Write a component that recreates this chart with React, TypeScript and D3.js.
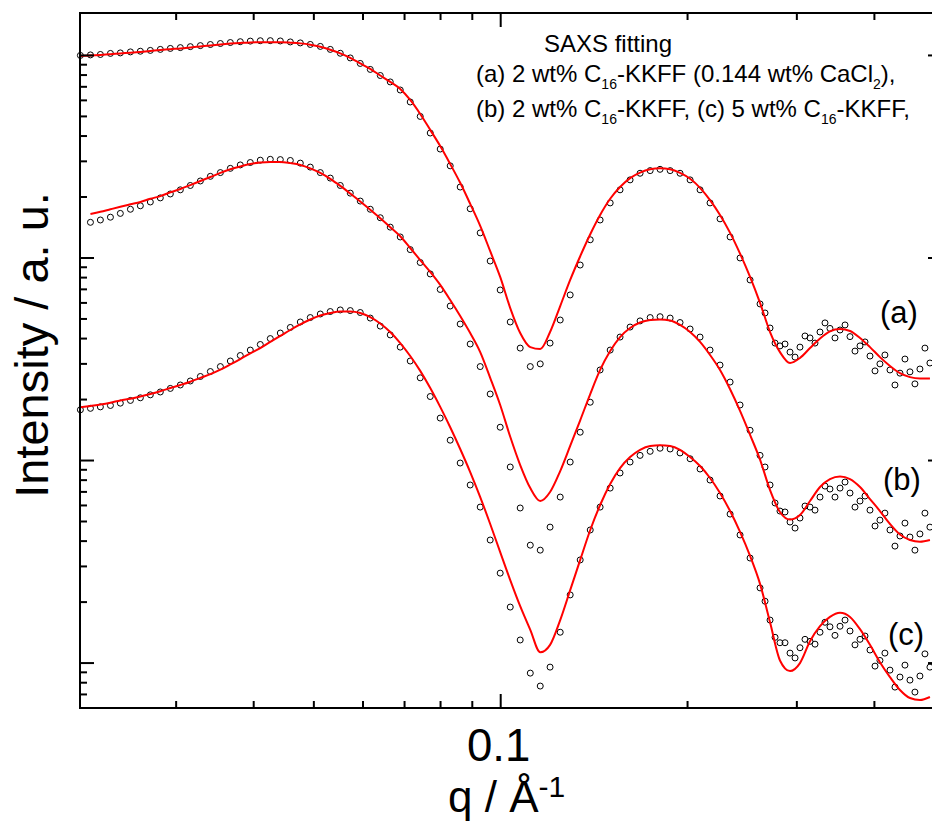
import React from 'react';
import * as d3 from 'd3';

const W = 932;
const H = 821;

// q values (Å^-1) shared by all series
const qGrid = [
  0.02103, 0.02183, 0.02265, 0.02351, 0.02439, 0.02532, 0.02627, 0.02726, 0.02829, 0.02936,
  0.03047, 0.03162, 0.03282, 0.03406, 0.03535, 0.03668, 0.03806, 0.0395, 0.04099, 0.04254,
  0.04415, 0.04582, 0.04755, 0.04934, 0.05121, 0.05314, 0.05515, 0.05723, 0.05939, 0.06164,
  0.06397, 0.06638, 0.06889, 0.07149, 0.07419, 0.077, 0.0799, 0.08292, 0.08605, 0.0893,
  0.09268, 0.09618, 0.09981, 0.1036, 0.1075, 0.1116, 0.1158, 0.1201, 0.1247, 0.1294,
  0.1343, 0.1394, 0.1446, 0.1501, 0.1557, 0.1616, 0.1677, 0.1741, 0.1806, 0.1875,
  0.1945, 0.2019, 0.2095, 0.2174, 0.2256, 0.2342, 0.243, 0.2522, 0.2617, 0.2716,
  0.2818, 0.2925, 0.3035, 0.315, 0.3269, 0.3392, 0.3521, 0.3654, 0.3792, 0.3935,
  0.4083, 0.4238, 0.4398, 0.4564, 0.4736, 0.4915,
];

// (a) 2 wt% C16-KKFF (0.144 wt% CaCl2)
const dataA = [
  1000, 1006, 1011, 1023, 1029, 1041, 1049, 1059, 1071, 1083,
  1093, 1105, 1118, 1132, 1145, 1158, 1169, 1177, 1182, 1183,
  1179, 1166, 1153, 1133, 1108, 1071, 1025, 972, 913, 853,
  796, 740, 675, 589, 500, 414, 345, 285, 224, 175,
  133, 96.6, 69.5, 48.3, 35.9, 29.1, 30.0, 38.0, 49.4, 65.7,
  92.3, 123, 154, 187, 217, 243, 262, 270, 274, 270,
  262, 243, 217, 187, 156, 127, 100, 77.9, 59.3, 45.1,
  36.8, 34.3, 36.3, 40.3, 43.1, 44.9, 44.1, 40.9, 36.8, 32.8,
  30.0, 28.0, 27.0, 27.4, 28.3, 30.3,
];
const fitA = [
  994, 1000, 1006, 1014, 1023, 1031, 1041, 1052, 1064, 1074,
  1083, 1095, 1108, 1121, 1133, 1144, 1153, 1160, 1162, 1163,
  1162, 1156, 1147, 1130, 1104, 1067, 1023, 972, 913, 858,
  796, 740, 683, 603, 514, 429, 357, 291, 235, 185,
  144, 108, 80.6, 56.6, 42.6, 36.3, 35.5, 43.1, 57.9, 77.9,
  102, 131, 163, 196, 224, 248, 264, 274, 277, 274,
  263, 246, 222, 193, 163, 133, 105, 80.6, 60.0, 43.1,
  34.3, 30.3, 32.1, 35.9, 40.0, 43.4, 44.6, 43.6, 40.3, 36.3,
  32.4, 29.3, 27.0, 25.8, 25.4, 25.4,
];

// (b) 2 wt% C16-KKFF
const dataB = [
  null, 150, 154, 159, 166, 174, 181, 189, 198, 207,
  217, 228, 240, 253, 264, 277, 288, 296, 304, 307,
  306, 303, 294, 281, 264, 248, 228, 209, 191, 174,
  158, 142, 127, 110, 95.0, 83.4, 69.9, 57.9, 47.2, 37.6,
  29.1, 21.3, 14.6, 9.29, 5.83, 3.82, 3.61, 4.69, 6.6, 9.83,
  13.8, 19.4, 28.0, 35.1, 40.7, 45.6, 48.9, 50.8, 51.3, 50.5,
  48.0, 44.6, 40.7, 35.1, 29.6, 24.4, 18.8, 14.1, 10.6, 7.57,
  5.63, 4.97, 5.2, 5.89, 6.6, 7.23, 7.31, 6.91, 6.31, 5.69,
  5.08, 4.54, 4.24, 4.19, 4.34, 4.69,
];
const fitB = [
  null, 165, 169, 174, 179, 184, 189, 196, 202, 211,
  219, 229, 240, 251, 263, 274, 283, 291, 296, 298,
  298, 294, 288, 277, 263, 246, 227, 208, 190, 173,
  157, 142, 128, 112, 97.7, 85.3, 73.6, 62.0, 51.7, 42.6,
  34.3, 25.6, 18.8, 13.1, 9.5, 7.31, 6.31, 6.99, 8.87, 11.8,
  15.8, 21.3, 28.0, 34.7, 40.7, 45.1, 48.0, 49.4, 49.7, 49.1,
  46.7, 43.1, 38.5, 33.2, 28.0, 22.5, 17.6, 13.4, 10.1, 7.15,
  5.57, 5.11, 5.38, 6.31, 7.4, 8.1, 8.34, 8.1, 7.4, 6.45,
  5.63, 4.86, 4.31, 4.05, 3.97, 4.05,
];

// (c) 5 wt% C16-KKFF
const dataC = [
  17.8, 18.1, 18.4, 18.7, 19.2, 19.8, 20.4, 21.1, 21.8, 22.7,
  23.6, 24.7, 26.0, 27.5, 29.1, 31.0, 33.0, 35.1, 37.4, 40.0,
  42.6, 45.4, 48.3, 50.8, 52.9, 54.4, 55.4, 55.0, 53.8, 50.5,
  46.1, 41.7, 36.3, 31.0, 25.6, 20.7, 16.2, 12.6, 9.72, 7.57,
  5.89, 4.05, 2.78, 1.89, 1.3, 0.892, 0.77, 0.955, 1.42, 2.17,
  3.23, 4.54, 5.89, 7.31, 8.68, 9.83, 10.6, 11.1, 11.5, 11.4,
  10.9, 10.2, 9.08, 8.01, 6.68, 5.44, 4.29, 3.3, 2.35, 1.63,
  1.26, 1.12, 1.19, 1.28, 1.42, 1.51, 1.52, 1.44, 1.31, 1.16,
  1.03, 0.923, 0.853, 0.824, 0.863, 0.955,
];
const fitC = [
  18.3, 18.6, 18.9, 19.3, 19.8, 20.2, 20.7, 21.3, 22.0, 22.8,
  23.6, 24.5, 25.6, 26.7, 28.1, 29.8, 31.7, 33.8, 35.9, 38.5,
  41.2, 44.1, 47.0, 49.7, 52.0, 53.5, 54.4, 54.4, 53.5, 51.1,
  47.5, 43.1, 38.0, 32.8, 27.7, 22.8, 18.4, 14.6, 11.4, 8.77,
  6.6, 4.86, 3.53, 2.57, 1.91, 1.46, 1.13, 1.23, 1.63, 2.29,
  3.23, 4.54, 6.03, 7.66, 9.18, 10.4, 11.3, 11.8, 11.9, 11.8,
  11.3, 10.4, 9.39, 8.2, 6.91, 5.63, 4.44, 3.38, 2.46, 1.59,
  1.03, 0.913, 1.0, 1.28, 1.52, 1.69, 1.77, 1.69, 1.47, 1.23,
  1.01, 0.853, 0.736, 0.672, 0.657, 0.68,
];

// extra high-q data points (noisy region)
const qScatter = [
  0.2666, 0.2767, 0.2871, 0.298, 0.3092, 0.3209, 0.333, 0.3456, 0.3587,
  0.3722, 0.3863, 0.4009, 0.4159, 0.4317, 0.448, 0.4649, 0.4825,
];
const scatterA = [53.5, 38.0, 37.6, 32.4, 41.2, 38.0, 47.8, 40.3, 46.7, 34.7, 38.5, 27.7, 33.2, 23.6, 31.7, 23.9, 35.9];
const scatterB = [9.29, 6.17, 5.57, 4.64, 5.96, 5.69, 7.48, 6.6, 7.83, 5.89, 6.68, 4.75, 5.5, 3.78, 4.91, 3.61, 5.5];
const scatterC = [2.02, 1.34, 1.26, 1.06, 1.31, 1.24, 1.59, 1.37, 1.63, 1.23, 1.36, 0.966, 1.12, 0.761, 0.977, 0.719, 1.11];

const xLabelValues = [0.1];
const xLabelTexts = ['0.1'];
const curveLabels = ['(a)', '(b)', '(c)'];

const FONT = "'Liberation Sans', Arial, Helvetica, sans-serif";

export default function App() {
  const left = 80, right = 942, top = 13, bottom = 708;
  const x = d3.scaleLog().domain([0.021, 0.514]).range([left, right]);
  const y = d3.scaleLog().domain([0.6, 1620]).range([bottom, top]);

  const isPow10 = (v: number) => Math.abs(Math.log10(v) - Math.round(Math.log10(v))) < 1e-6;
  const xt = x.ticks();
  const yt = y.ticks();

  const line = d3
    .line<[number, number | null]>()
    .defined((d) => d[1] != null)
    .x((d) => x(d[0]))
    .y((d) => y(d[1] as number))
    .curve(d3.curveMonotoneX);

  const series = [
    { data: dataA, fit: fitA, sc: scatterA },
    { data: dataB, fit: fitB, sc: scatterB },
    { data: dataC, fit: fitC, sc: scatterC },
  ];

  const labelPos = [
    { x: 880, y: 323 },
    { x: 883, y: 490 },
    { x: 888, y: 645 },
  ];

  const tickW = 2;
  return (
    <svg
      width={W}
      height={H}
      style={{ position: 'absolute', left: 0, top: 0, background: '#fff' }}
      fontFamily={FONT}
    >
      <rect x={0} y={0} width={W} height={H} fill="#fff" />
      {/* data circles */}
      {series.map((s, si) => (
        <g key={'d' + si} fill="none" stroke="#000" strokeWidth={1}>
          {qGrid.map((q, i) =>
            s.data[i] == null ? null : (
              <circle key={i} cx={x(q)} cy={y(s.data[i] as number)} r={3} />
            )
          )}
          {qScatter.map((q, i) => (
            <circle key={'s' + i} cx={x(q)} cy={y(s.sc[i])} r={3} />
          ))}
        </g>
      ))}
      {/* fits */}
      {series.map((s, si) => (
        <path
          key={'f' + si}
          d={line(qGrid.map((q, i) => [q, s.fit[i]] as [number, number | null])) || ''}
          fill="none"
          stroke="#ff0000"
          strokeWidth={2}
        />
      ))}
      {/* frame */}
      <rect x={left} y={top} width={right - left} height={bottom - top} fill="none" stroke="#000" strokeWidth={2} />
      {/* x ticks */}
      {xt.map((t, i) => {
        const len = isPow10(t) ? 14 : 7;
        const px = x(t);
        return (
          <g key={'xt' + i} stroke="#000" strokeWidth={tickW}>
            <line x1={px} x2={px} y1={bottom} y2={bottom - len} />
            <line x1={px} x2={px} y1={top} y2={top + len} />
          </g>
        );
      })}
      {/* y ticks */}
      {yt.map((t, i) => {
        const len = isPow10(t) ? 14 : 7;
        const py = y(t);
        return (
          <g key={'yt' + i} stroke="#000" strokeWidth={tickW}>
            <line x1={left} x2={left + len} y1={py} y2={py} />
            <line x1={right} x2={right - len} y1={py} y2={py} />
          </g>
        );
      })}
      {/* x tick labels */}
      {xLabelValues.map((v, i) => (
        <text key={'xl' + i} x={x(v) - 2} y={761} fontSize={45.6} textAnchor="middle" fill="#000">
          {xLabelTexts[i]}
        </text>
      ))}
      {/* axis titles */}
      <text x={448} y={811.7} fontSize={44} fill="#000">
        q / Å<tspan fontSize={30} dy={-15}>-1</tspan>
      </text>
      <text transform="translate(48,345) rotate(-90)" fontSize={47} textAnchor="middle" fill="#000">
        Intensity / a. u.
      </text>
      {/* legend text */}
      <text x={544} y={52} fontSize={24} fill="#000">SAXS fitting</text>
      <text x={476} y={82} fontSize={24} fill="#000">
        (a) 2 wt% C<tspan fontSize={14} dy={7}>16</tspan>
        <tspan dy={-7}>-KKFF (0.144 wt% CaCl</tspan>
        <tspan fontSize={14} dy={7}>2</tspan>
        <tspan dy={-7}>),</tspan>
      </text>
      <text x={476} y={117} fontSize={24} fill="#000">
        (b) 2 wt% C<tspan fontSize={14} dy={7}>16</tspan>
        <tspan dy={-7}>-KKFF, (c) 5 wt% C</tspan>
        <tspan fontSize={14} dy={7}>16</tspan>
        <tspan dy={-7}>-KKFF,</tspan>
      </text>
      {/* curve labels */}
      {curveLabels.map((l, i) => (
        <text key={'cl' + i} x={labelPos[i].x} y={labelPos[i].y} fontSize={31} fill="#000">
          {l}
        </text>
      ))}
    </svg>
  );
}
